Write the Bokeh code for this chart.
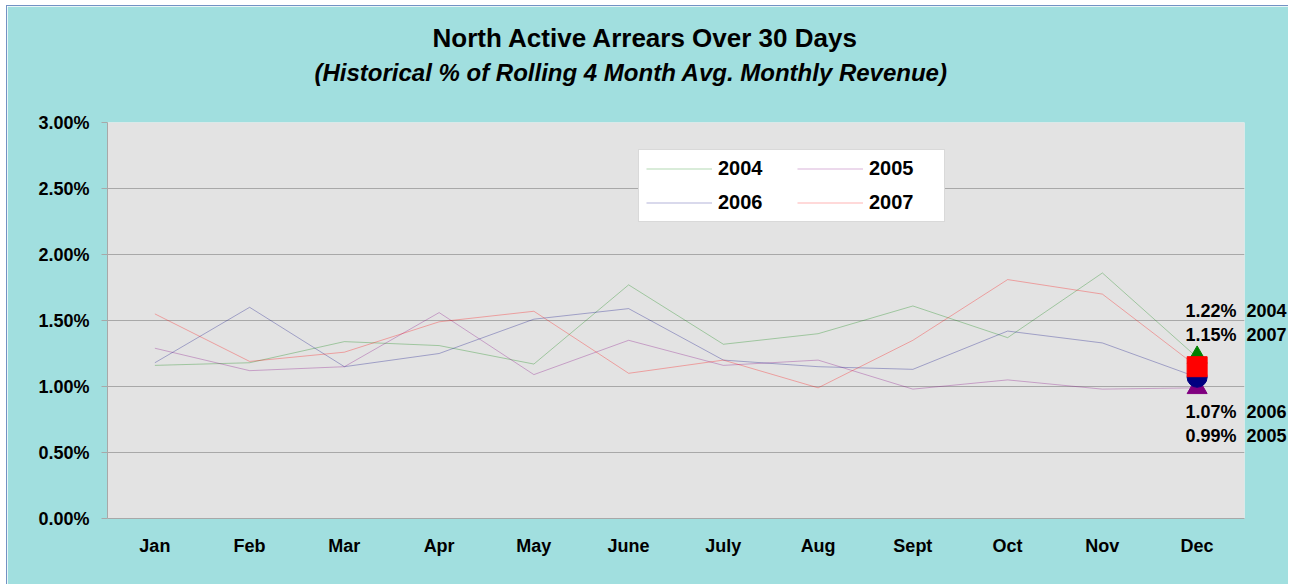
from bokeh.plotting import figure
from bokeh.models import (FactorRange, Range1d, Title, Legend, LegendItem, LinearAxis,
                          FixedTicker, PrintfTickFormatter)
from bokeh.embed import file_html
from bokeh.resources import INLINE

# ---------------- data ----------------
months = ["Jan", "Feb", "Mar", "Apr", "May", "June", "July", "Aug", "Sept", "Oct", "Nov", "Dec"]
years = ["2004", "2005", "2006", "2007"]
pct_2004 = [1.16, 1.18, 1.34, 1.31, 1.17, 1.77, 1.32, 1.40, 1.61, 1.37, 1.86, 1.22]
pct_2005 = [1.29, 1.12, 1.15, 1.56, 1.09, 1.35, 1.16, 1.20, 0.98, 1.05, 0.98, 0.99]
pct_2006 = [1.18, 1.60, 1.15, 1.25, 1.51, 1.59, 1.20, 1.15, 1.13, 1.42, 1.33, 1.07]
pct_2007 = [1.55, 1.19, 1.26, 1.49, 1.57, 1.10, 1.20, 0.99, 1.35, 1.81, 1.70, 1.15]
y_ticks = [0.0, 0.5, 1.0, 1.5, 2.0, 2.5, 3.0]
title_text = "North Active Arrears Over 30 Days"
subtitle_text = "(Historical % of Rolling 4 Month Avg. Monthly Revenue)"

series = {"2004": pct_2004, "2005": pct_2005, "2006": pct_2006, "2007": pct_2007}
colors = {"2004": "#008000", "2005": "#800080", "2006": "#000080", "2007": "#FF0000"}
markers = {"2004": "triangle", "2005": "triangle", "2006": "circle", "2007": "square"}

FONT = "Liberation Sans"
GRID = "#A8A8A8"
Y_START, Y_END = 0, 3
FRAME_H = 396

p = figure(x_range=FactorRange(*months), y_range=Range1d(Y_START, Y_END), title=None,
           width=1282, height=579, margin=(5, 0, 0, 6),
           styles={"border-left": "1px solid #7392C4", "border-top": "1px solid #7392C4"},
           output_backend="svg", toolbar_location=None,
           background_fill_color="#E3E3E3", border_fill_color="#A1DFDF",
           min_border_left=100, min_border_right=45, min_border_top=116, min_border_bottom=67,
           outline_line_color=None)

# y axis
ya = p.yaxis[0]
ya.ticker = FixedTicker(ticks=y_ticks)
ya.formatter = PrintfTickFormatter(format="%.2f%%")
ya.major_label_text_font = FONT
ya.major_label_text_font_size = "18px"
ya.major_label_text_font_style = "bold"
ya.major_label_text_color = "black"
ya.major_tick_out = 6
ya.major_tick_in = 0
ya.minor_tick_out = 0
ya.minor_tick_in = 0
ya.major_label_standoff = 12
ya.axis_line_color = GRID
ya.major_tick_line_color = GRID
p.ygrid.grid_line_color = GRID
p.xgrid.visible = False

# x axis
xa = p.xaxis[0]
xa.major_tick_line_color = None
xa.major_tick_out = 0
xa.major_tick_in = 0
xa.axis_line_color = GRID
xa.major_label_text_font = FONT
xa.major_label_text_font_size = "18px"
xa.major_label_text_font_style = "bold"
xa.major_label_text_color = "black"
xa.major_label_standoff = 17

# lines
renderers = {}
for yr in years:
    renderers[yr] = p.line(months, series[yr], line_color=colors[yr], line_alpha=0.3, line_width=1)

# December markers
for yr in ["2005", "2004", "2006", "2007"]:
    p.scatter([months[-1]], [series[yr][-1]], marker=markers[yr], size=20,
              fill_color=colors[yr], line_color=colors[yr])

# December value labels: drawn as tick labels of an unlined right-hand axis,
# each floated a fixed number of pixels above/below its series' December value
px_per_unit = FRAME_H / (Y_END - Y_START)
label_px_offsets = {"2004": 46, "2007": 32, "2006": -35, "2005": -48}
label_pos, label_txt = [], {}
for yr in years:
    v = series[yr][-1]
    pos = v + label_px_offsets[yr] / px_per_unit
    label_pos.append(pos)
    label_txt[pos] = f"{v:.2f}%\u00a0\u00a0{yr}"
ra = LinearAxis(ticker=FixedTicker(ticks=label_pos), major_label_overrides=label_txt,
                axis_line_color=None, major_tick_line_color=None,
                major_tick_out=0, major_tick_in=0, minor_tick_out=0, minor_tick_in=0,
                major_label_standoff=-59, major_label_text_font=FONT,
                major_label_text_font_size="18px", major_label_text_font_style="bold",
                major_label_text_color="black")
p.add_layout(ra, "right")

# titles (later-added title sits further from the plot)
p.add_layout(Title(text=subtitle_text, text_font=FONT, text_font_size="24px",
                   text_font_style="bold italic", text_color="black",
                   align="left", offset=207, standoff=74), "above")
p.add_layout(Title(text=title_text, text_font=FONT, text_font_size="26px",
                   text_font_style="bold", text_color="black",
                   align="left", offset=325, standoff=-66), "above")

legend = Legend(items=[LegendItem(label=yr, renderers=[renderers[yr]]) for yr in years],
                location=(531, 296), orientation="horizontal", ncols=2,
                label_text_font=FONT, label_text_font_size="20px", label_text_font_style="bold",
                label_text_color="black", glyph_width=66, glyph_height=23, label_height=23,
                label_width=68, label_standoff=6, spacing=11, padding=7, margin=0,
                border_line_color="#B4B4B4", border_line_width=1,
                background_fill_color="white", background_fill_alpha=1.0)
p.add_layout(legend)

open("out.html", "w").write(file_html(p, INLINE))
